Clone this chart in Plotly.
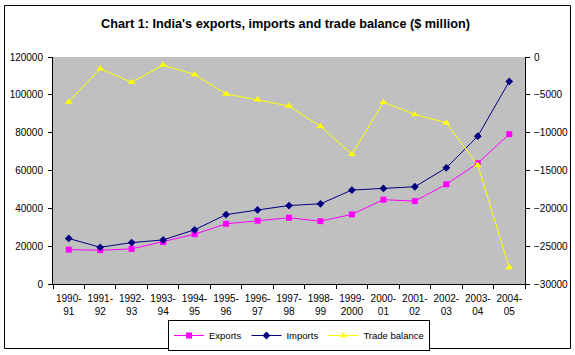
import plotly.graph_objects as go

years = ["1990-<br>91", "1991-<br>92", "1992-<br>93", "1993-<br>94", "1994-<br>95",
         "1995-<br>96", "1996-<br>97", "1997-<br>98", "1998-<br>99", "1999-<br>2000",
         "2000-<br>01", "2001-<br>02", "2002-<br>03", "2003-<br>04", "2004-<br>05"]
exports = [18143, 17865, 18537, 22238, 26330, 31797, 33470, 35006, 33219, 36822,
           44560, 43827, 52719, 63843, 79247]
imports = [24075, 19411, 21882, 23306, 28654, 36678, 39133, 41484, 42389, 49671,
           50536, 51413, 61412, 78149, 107066]
trade_balance = [-5932, -1546, -3345, -1068, -2324, -4881, -5663, -6478, -9170, -12849,
                 -5976, -7586, -8693, -14307, -27819]

W, H = 575, 355
L, R, T, B = 53, 50, 57, 71
pw, ph = W - L - R, H - T - B

def px(x):
    return (x - L) / pw

def py(y):
    return (H - B - y) / ph

fig = go.Figure()
fig.add_trace(go.Scatter(x=years, y=exports, name="Exports", mode="lines+markers",
                         line=dict(color="#FF00FF", width=1),
                         marker=dict(symbol="square", size=6, color="#FF00FF")))
fig.add_trace(go.Scatter(x=years, y=imports, name="Imports", mode="lines+markers",
                         line=dict(color="#000080", width=1),
                         marker=dict(symbol="diamond", size=6, color="#000080")))
fig.add_trace(go.Scatter(x=years, y=trade_balance, name="Trade balance", mode="lines+markers",
                         yaxis="y2",
                         line=dict(color="#FFFF00", width=1),
                         marker=dict(symbol="triangle-up", size=7, color="#FFFF00")))

FF = "Liberation Sans, Arial, sans-serif"
font = dict(family=FF, size=9, color="black")

fig.update_layout(
    width=W, height=H,
    margin=dict(l=L, r=R, t=T, b=B, autoexpand=False),
    paper_bgcolor="white",
    plot_bgcolor="#C0C0C0",
    font=font,
    showlegend=True,
    legend=dict(orientation="h", x=px(299), xanchor="center", y=py(320), yanchor="top",
                bordercolor="black", borderwidth=1, bgcolor="white",
                font=dict(family=FF, size=9.5),
                itemwidth=30, tracegroupgap=0),
    xaxis=dict(type="category", showgrid=False, showline=True, linecolor="black",
               linewidth=1, ticks="outside", ticklen=4, tickcolor="black",
               tickson="boundaries", tickfont=dict(size=10), tickangle=0, mirror=False,
               automargin=False, ticklabelstandoff=5, range=[-0.5, len(years) - 0.5]),
    yaxis=dict(range=[0, 120000], dtick=20000, showgrid=False, showline=True,
               linecolor="black", linewidth=1, ticks="outside", ticklen=4,
               tickcolor="black", zeroline=False, tickformat="d", tickfont=dict(size=10),
               automargin=False, ticklabelstandoff=3),
    yaxis2=dict(range=[-30000, 0], dtick=5000, overlaying="y", side="right",
                showgrid=False, showline=True, linecolor="black", linewidth=1,
                ticks="outside", ticklen=4, tickcolor="black", zeroline=False,
                tickformat="d", tickfont=dict(size=10), automargin=False,
                ticklabelstandoff=2),
    annotations=[dict(text="<b>Chart 1: India's exports, imports and trade balance ($ million)</b>",
                      xref="paper", yref="paper", x=px(285), y=py(24),
                      xanchor="center", yanchor="middle", showarrow=False,
                      font=dict(family=FF, size=12.7))],
    shapes=[dict(type="rect", xref="paper", yref="paper",
                 x0=px(4.5), x1=px(570.5), y0=py(348.5), y1=py(5.5),
                 line=dict(color="black", width=1), fillcolor="rgba(0,0,0,0)", layer="below")],
)

fig.write_html("out.html", config={"displayModeBar": False},
               post_script="document.body.style.margin='0';document.body.style.overflow='hidden';")
